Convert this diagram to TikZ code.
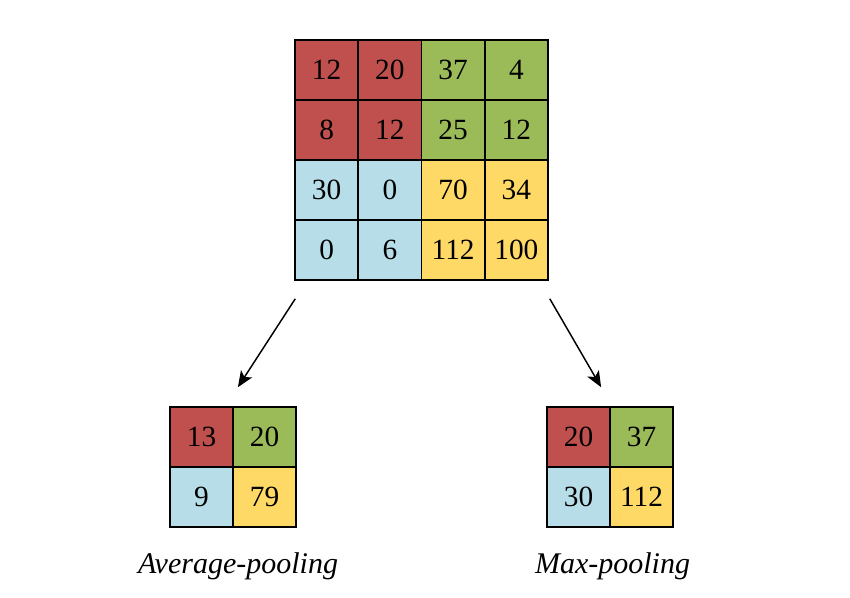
\documentclass[tikz,border=0pt]{standalone}
\usepackage{fontspec}
\setmainfont{Liberation Serif}
\usetikzlibrary{arrows.meta}

\definecolor{poolred}{HTML}{C0504D}
\definecolor{poolgreen}{HTML}{9BBB59}
\definecolor{poolblue}{HTML}{B7DEE8}
\definecolor{poolyellow}{HTML}{FFD966}

\tikzset{cell/.style={draw=black,line width=1.2pt,minimum width=47.4pt,minimum height=45pt,inner sep=0pt,font=\fontsize{22}{22}\selectfont},
	poolname/.style={anchor=base,font=\fontsize{22.5}{22.5}\selectfont\itshape},
	poolarrow/.style={-{Stealth[length=12pt,width=10pt,inset=3pt]},line width=1.1pt}}

\begin{document}
\begin{tikzpicture}[x=0.75pt,y=-0.75pt]
	\useasboundingbox (0,0) rectangle (850,597);
	% input feature map
	\foreach \r/\c/\v/\col in {1/1/12/poolred,1/2/20/poolred,1/3/37/poolgreen,1/4/4/poolgreen,
		2/1/8/poolred,2/2/12/poolred,2/3/25/poolgreen,2/4/12/poolgreen,
		3/1/30/poolblue,3/2/0/poolblue,3/3/70/poolyellow,3/4/34/poolyellow,
		4/1/0/poolblue,4/2/6/poolblue,4/3/112/poolyellow,4/4/100/poolyellow}
		\node[cell,fill=\col] (t\r\c) at (263.4+63.25*\c,10+60*\r) {\v};
	% average pooling
	\foreach \r/\c/\v/\col in {1/1/13/poolred,1/2/20/poolgreen,2/1/9/poolblue,2/2/79/poolyellow}
		\node[cell,fill=\col] (l\r\c) at (138.5+63*\c,377+60*\r) {\v};
	% max pooling
	\foreach \r/\c/\v/\col in {1/1/20/poolred,1/2/37/poolgreen,2/1/30/poolblue,2/2/112/poolyellow}
		\node[cell,fill=\col] (m\r\c) at (515.5+63*\c,377+60*\r) {\v};
	\node[poolname] (avg) at (238,573) {Average-pooling};
	\node[poolname] (max) at (612.5,573) {Max-pooling};
	\draw[poolarrow] ([xshift=0.75pt,yshift=-13.5pt]t41.south west) -- ([xshift=3pt,yshift=14.25pt]l11.north east);
	\draw[poolarrow] ([xshift=0.75pt,yshift=-13.5pt]t44.south east) -- ([xshift=-6pt,yshift=14.25pt]m12.north west);
\end{tikzpicture}
\end{document}
